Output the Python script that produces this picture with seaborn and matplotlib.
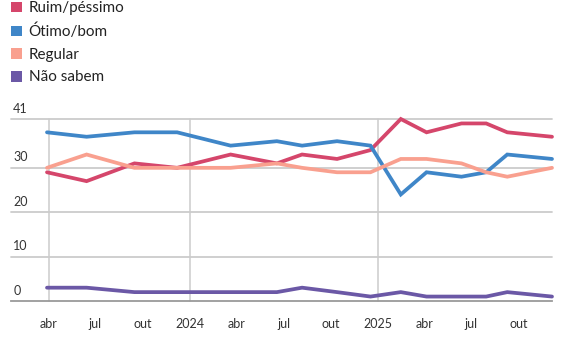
import matplotlib
matplotlib.use("Agg")
import matplotlib.pyplot as plt
import matplotlib.dates as mdates
from matplotlib.patches import Patch
import seaborn as sns
import pandas as pd

dates = ["2023-03-29", "2023-06-14", "2023-09-15", "2023-12-07", "2024-03-20",
         "2024-06-18", "2024-08-06", "2024-10-13", "2024-12-17", "2025-02-14",
         "2025-04-05", "2025-06-12", "2025-07-30", "2025-09-09", "2025-12-05"]
ruim = [29, 27, 31, 30, 33, 31, 33, 32, 34, 41, 38, 40, 40, 38, 37]
otimo = [38, 37, 38, 38, 35, 36, 35, 36, 35, 24, 29, 28, 29, 33, 32]
regular = [30, 33, 30, 30, 30, 31, 30, 29, 29, 32, 32, 31, 29, 28, 30]
nao_sabem = [3, 3, 2, 2, 2, 2, 3, 2, 1, 2, 1, 1, 1, 2, 1]

series_names = ["Ruim/péssimo", "Ótimo/bom", "Regular", "Não sabem"]
colors = ["#d5466b", "#3f86c8", "#f9a08f", "#6b58a6"]
ytick_vals = [0, 10, 20, 30, 41]
xtick_dates = ["2023-04-01", "2023-07-01", "2023-10-01", "2024-01-01", "2024-04-01",
               "2024-07-01", "2024-10-01", "2025-01-01", "2025-04-01", "2025-07-01",
               "2025-10-01"]
xtick_labels = ["abr", "jul", "out", "2024", "abr", "jul", "out", "2025", "abr", "jul", "out"]
vline_dates = ["2023-04-01", "2024-01-01", "2025-01-01"]

rows = []
for name, vals in zip(series_names, [ruim, otimo, regular, nao_sabem]):
    for d, v in zip(dates, vals):
        rows.append({"data": pd.Timestamp(d), "valor": v, "serie": name})
df = pd.DataFrame(rows)

sns.set_theme(style="white")
plt.rcParams["font.family"] = ["Lato", "DejaVu Sans"]

fig = plt.figure(figsize=(5.76, 3.47), dpi=100)
ax = fig.add_axes([11 / 576, 1 - 301 / 347, (552 - 11) / 576, (301 - 119) / 347])

grid_c = "#cccccc"
for v in ytick_vals[1:]:
    ax.axhline(v, color=grid_c, lw=1.3, zorder=0, clip_on=False)
for d in vline_dates:
    ax.axvline(pd.Timestamp(d), color=grid_c, lw=1.1, zorder=0, clip_on=False)

sns.lineplot(data=df, x="data", y="valor", hue="serie", hue_order=series_names,
             palette=colors, lw=2.7, legend=False, ax=ax, zorder=3)
for ln in ax.get_lines():
    ln.set_clip_on(False)
    ln.set_solid_joinstyle("miter")

ax.set_xlim(pd.Timestamp("2023-01-18"), pd.Timestamp("2025-12-05"))
ax.set_ylim(0, 41)
ax.set_xlabel("")
ax.set_ylabel("")
ax.set_yticks([])
for s in ["top", "right", "left"]:
    ax.spines[s].set_visible(False)
ax.spines["bottom"].set_color("#9a9a9a")
ax.spines["bottom"].set_linewidth(1.3)

ax.set_xticks([pd.Timestamp(d) for d in xtick_dates])
ax.set_xticklabels(xtick_labels)
ax.set_xticks([pd.Timestamp(d) for d in vline_dates], minor=True)
ax.tick_params(axis="x", which="major", length=0, pad=12, labelsize=9, colors="#333333")
ax.tick_params(axis="x", which="minor", length=4, width=1.1, color=grid_c)

ytr = ax.get_yaxis_transform()
for v in ytick_vals:
    ax.text(0.004, v + 1.0, str(v), transform=ytr, ha="left", va="bottom",
            fontsize=9, color="#333333")

handles = [Patch(facecolor=c, edgecolor="none", label=n) for n, c in zip(series_names, colors)]
fig.legend(handles=handles, loc="upper left", bbox_to_anchor=(0.0, 1.027),
           frameon=False, fontsize=11, handlelength=0.72, handleheight=0.72,
           handletextpad=0.45, labelspacing=0.56, borderaxespad=0.3,
           labelcolor="#222222")

fig.savefig("out.png", dpi=100)
